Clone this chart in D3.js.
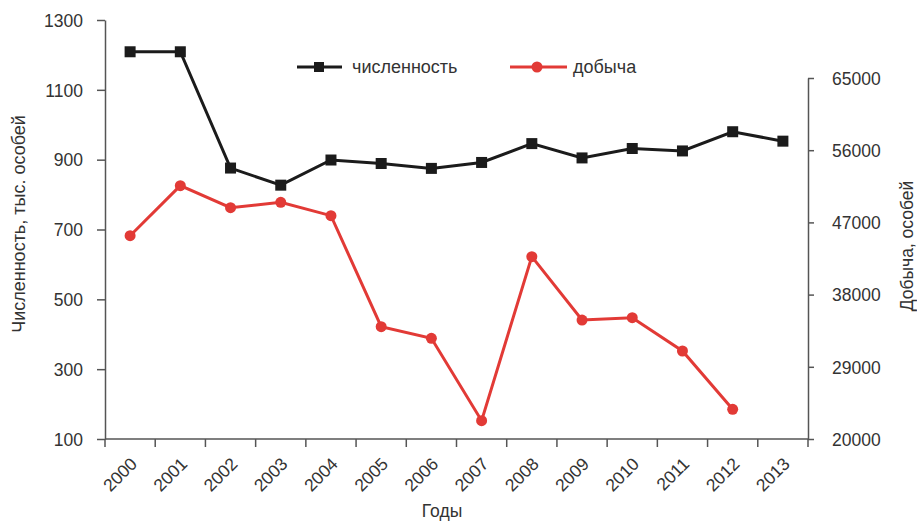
<!DOCTYPE html>
<html>
<head>
<meta charset="utf-8">
<script src="https://cdn.jsdelivr.net/npm/d3@7"></script>
<style>
	body { margin: 0; background: #fff; }
	svg { display: block; font-family: "Liberation Sans", Arial, sans-serif; }
	.axis path, .axis line { stroke: #555; stroke-width: 1.5; }
	.axis text { fill: #333; font-size: 17.5px; }
</style>
</head>
<body>
<div class="chart"></div>
<script>
const years = [2000, 2001, 2002, 2003, 2004, 2005, 2006, 2007, 2008, 2009, 2010, 2011, 2012, 2013];
// численность, тыс. особей (левая ось)
const population = [1209, 1209, 876, 827, 899, 889, 875, 892, 946, 905, 932, 925, 980, 953];
// добыча, особей (правая ось), за 2013 нет данных
const harvest = [45340, 51580, 48830, 49510, 47840, 34000, 32550, 22280, 42730, 34830, 35120, 30970, 23700, null];
const leftTicks = [100, 300, 500, 700, 900, 1100, 1300];
const rightTicks = [20000, 29000, 38000, 47000, 56000, 65000];

const width = 917;
const height = 522;
const left = 105, right = 808, bottom = 439;

const svg = d3.select('.chart')
	.append('svg')
	.attr('width', width)
	.attr('height', height);

const x = d3.scaleBand()
	.domain(years)
	.range([left, right])
	.padding(0);

const yLeft = d3.scaleLinear()
	.domain([100, 1300])
	.range([bottom, 20]);

const yRight = d3.scaleLinear()
	.domain([20000, 65000])
	.range([bottom, 78]);

// left axis
svg.append('g')
	.attr('class', 'axis')
	.attr('transform', `translate(${left},0)`)
	.call(d3.axisLeft(yLeft).tickValues(leftTicks).tickFormat(d3.format('d')).tickSize(8).tickSizeOuter(0).tickPadding(14))
	.call(g => g.selectAll('text').attr('dy', '0.36em'));

// right axis
svg.append('g')
	.attr('class', 'axis')
	.attr('transform', `translate(${right},0)`)
	.call(d3.axisRight(yRight).tickValues(rightTicks).tickFormat(d3.format('d')).tickSize(6).tickSizeOuter(0).tickPadding(18))
	.call(g => g.selectAll('text').attr('dy', '0.36em'));

// bottom axis: ticks on band edges, labels rotated under band centres
const xAxis = svg.append('g')
	.attr('class', 'axis')
	.attr('transform', `translate(0,${bottom})`);

xAxis.append('line')
	.attr('x1', left).attr('x2', right)
	.attr('y1', 0).attr('y2', 0);

xAxis.selectAll('.xtick')
	.data(years.concat(['end']))
	.enter()
	.append('line')
	.attr('class', 'xtick')
	.attr('x1', d => d === 'end' ? right : x(d))
	.attr('x2', d => d === 'end' ? right : x(d))
	.attr('y1', 0)
	.attr('y2', 8);

xAxis.selectAll('.xlabel')
	.data(years)
	.enter()
	.append('text')
	.attr('class', 'xlabel')
	.text(d => d)
	.attr('text-anchor', 'end')
	.attr('font-size', '16.5px')
	.attr('transform', d => `translate(${x(d) + x.bandwidth() / 2 + 8},26) rotate(-45)`);

// titles
svg.append('text')
	.text('Численность, тыс. особей')
	.attr('text-anchor', 'middle')
	.attr('font-size', '18px')
	.attr('fill', '#333')
	.attr('transform', 'translate(25,224) rotate(-90)');

svg.append('text')
	.text('Добыча, особей')
	.attr('text-anchor', 'middle')
	.attr('font-size', '17.5px')
	.attr('fill', '#333')
	.attr('transform', 'translate(913,246) rotate(-90)');

svg.append('text')
	.text('Годы')
	.attr('x', 442)
	.attr('y', 517)
	.attr('text-anchor', 'middle')
	.attr('font-size', '17.5px')
	.attr('fill', '#333');

const cx = d => x(d) + x.bandwidth() / 2;
const black = '#1b1b1b';
const red = '#e23a36';

// добыча
const harvestData = years.map((d, i) => ({ year: d, v: harvest[i] })).filter(d => d.v !== null);
svg.append('path')
	.datum(harvestData)
	.attr('fill', 'none')
	.attr('stroke', red)
	.attr('stroke-width', 3)
	.attr('d', d3.line().x(d => cx(d.year)).y(d => yRight(d.v)));

svg.selectAll('.harvest')
	.data(harvestData)
	.enter()
	.append('circle')
	.attr('class', 'harvest')
	.attr('fill', red)
	.attr('cx', d => cx(d.year))
	.attr('cy', d => yRight(d.v))
	.attr('r', 5.5);

// численность
const popData = years.map((d, i) => ({ year: d, v: population[i] }));
svg.append('path')
	.datum(popData)
	.attr('fill', 'none')
	.attr('stroke', black)
	.attr('stroke-width', 3)
	.attr('d', d3.line().x(d => cx(d.year)).y(d => yLeft(d.v)));

svg.selectAll('.pop')
	.data(popData)
	.enter()
	.append('rect')
	.attr('class', 'pop')
	.attr('fill', black)
	.attr('x', d => cx(d.year) - 5.5)
	.attr('y', d => yLeft(d.v) - 5.5)
	.attr('width', 11)
	.attr('height', 11);

// legend
const legend = svg.append('g');
legend.append('line')
	.attr('x1', 297).attr('x2', 342).attr('y1', 67).attr('y2', 67)
	.attr('stroke', black).attr('stroke-width', 3);
legend.append('rect')
	.attr('x', 314).attr('y', 62).attr('width', 10).attr('height', 10)
	.attr('fill', black);
legend.append('text')
	.text('численность')
	.attr('x', 352).attr('y', 73)
	.attr('font-size', '18px').attr('fill', '#333');

legend.append('line')
	.attr('x1', 510).attr('x2', 567).attr('y1', 67).attr('y2', 67)
	.attr('stroke', red).attr('stroke-width', 3);
legend.append('circle')
	.attr('cx', 537).attr('cy', 67).attr('r', 5.5)
	.attr('fill', red);
legend.append('text')
	.text('добыча')
	.attr('x', 573).attr('y', 73)
	.attr('font-size', '18px').attr('fill', '#333');
</script>
</body>
</html>
